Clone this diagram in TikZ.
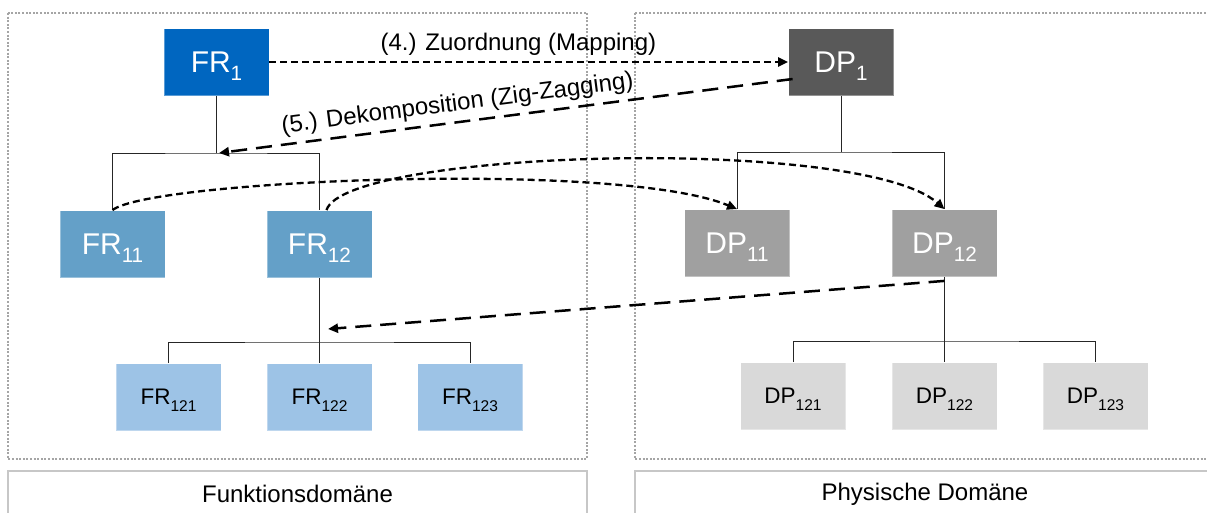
\documentclass[tikz,border=0pt]{standalone}
\usepackage{fontspec}
\setmainfont{Liberation Sans}
\usepackage{graphicx}
\usetikzlibrary{arrows.meta}

\definecolor{frdark}{RGB}{0,102,192}
\definecolor{frmid}{RGB}{100,160,200}
\definecolor{frlight}{RGB}{157,195,230}
\definecolor{dpdark}{RGB}{89,89,89}
\definecolor{dpmid}{RGB}{160,160,160}
\definecolor{dplight}{RGB}{217,217,217}
\definecolor{framegray}{RGB}{165,165,165}

\newcommand{\ix}[1]{\raisebox{-0.28em}[\height][0pt]{\scalebox{0.69}{#1}}}

\begin{document}
\begin{tikzpicture}[x=1pt, y=-1pt,
    every node/.style={font=\fontsize{24}{29}\selectfont},
    box/.style={rectangle, minimum width=105pt, minimum height=67pt, inner sep=0pt, draw=white, draw opacity=0.35, line width=0.8pt},
    bigbox/.style={box, text=white, font=\fontsize{30}{36}\selectfont},
    smallbox/.style={box, text=black, font=\fontsize{22.5}{27}\selectfont},
    tree/.style={line width=1pt, black!85},
    mapto/.style={line width=2.3pt, dash pattern=on 7pt off 4pt, -{Triangle[length=10pt,width=9pt]}},
    zigzag/.style={line width=2.5pt, dash pattern=on 16pt off 9pt, -{Triangle[length=10pt,width=9pt]}},
    domainframe/.style={draw=framegray, line width=2pt, dash pattern=on 2pt off 1.6pt},
    labelbox/.style={draw=black!22, line width=1.2pt}]
    \useasboundingbox (0,0) rectangle (1207,512);
    \clip (0,0) rectangle (1207,512);

    % Funktionsdomaene
    \draw[domainframe] (8,13) rectangle (587,459);
    \draw[labelbox] (8,471) rectangle (587,530);
    \node (lbfr) at (297.5,494) {Funktionsdomäne};

    % Physische Domaene
    \draw[domainframe] (635,13) rectangle (1225,459);
    \draw[labelbox] (635,471) rectangle (1225,530);
    \node (lbdp) at (925,494) {Physische Domäne};

    % FR-Hierarchie
    \node[bigbox, fill=frdark] (fr1) at (216.5,62) {FR\ix{1}};
    \node[bigbox, fill=frmid] (fr11) at (112.5,244) {FR\ix{11}};
    \node[bigbox, fill=frmid] (fr12) at (319.5,244) {FR\ix{12}};
    \node[smallbox, fill=frlight] (fr121) at (168.5,397) {FR\ix{121}};
    \node[smallbox, fill=frlight] (fr122) at (319.5,397) {FR\ix{122}};
    \node[smallbox, fill=frlight] (fr123) at (470,397) {FR\ix{123}};

    % DP-Hierarchie
    \node[bigbox, fill=dpdark] (dp1) at (841,62) {DP\ix{1}};
    \node[bigbox, fill=dpmid] (dp11) at (737,243) {DP\ix{11}};
    \node[bigbox, fill=dpmid] (dp12) at (944.5,243) {DP\ix{12}};
    \node[smallbox, fill=dplight] (dp121) at (793,396) {DP\ix{121}};
    \node[smallbox, fill=dplight] (dp122) at (944.5,396) {DP\ix{122}};
    \node[smallbox, fill=dplight] (dp123) at (1095.5,396) {DP\ix{123}};

    % Baumlinien FR
    \coordinate (jfr1) at (216.5,153);
    \draw[tree] (fr1) -- (jfr1);
    \draw[tree] (fr11.north) |- (jfr1) -| (fr12.north);
    \coordinate (jfr12) at (319.5,342);
    \draw[tree] (fr12) -- (jfr12) -- (fr122);
    \draw[tree] (fr121.north) |- (jfr12) -| (fr123.north);

    % Baumlinien DP
    \coordinate (jdp1) at (841,152);
    \draw[tree] (dp1) -- (jdp1);
    \draw[tree] (dp11.north) |- (jdp1) -| (dp12.north);
    \coordinate (jdp12) at (944.5,341);
    \draw[tree] (dp12) -- (jdp12) -- (dp122);
    \draw[tree] (dp121.north) |- (jdp12) -| (dp123.north);

    % (4.) Zuordnung
    \draw[mapto] (fr1.east) -- node[pos=0.48, above=2pt] (lb4) {(4.) Zuordnung (Mapping)} (dp1.west);
    \draw[mapto] (fr11.north) .. controls (150,180) and (620,160) .. (dp11.north);
    \draw[mapto] ([xshift=7pt]fr12.north) .. controls (345,150) and (860,135) .. (dp12.north);

    % (5.) Dekomposition
    \draw[zigzag] ([xshift=4.5pt,yshift=-17pt]dp1.west) -- node[pos=0.58, sloped, above=2pt] (lb5) {(5.) Dekomposition (Zig-Zagging)} ([xshift=2.5pt]jfr1);
    \draw[zigzag] ([yshift=-4pt]dp12.south) -- ([xshift=8.5pt,yshift=13pt]jfr12);
\end{tikzpicture}
\end{document}
